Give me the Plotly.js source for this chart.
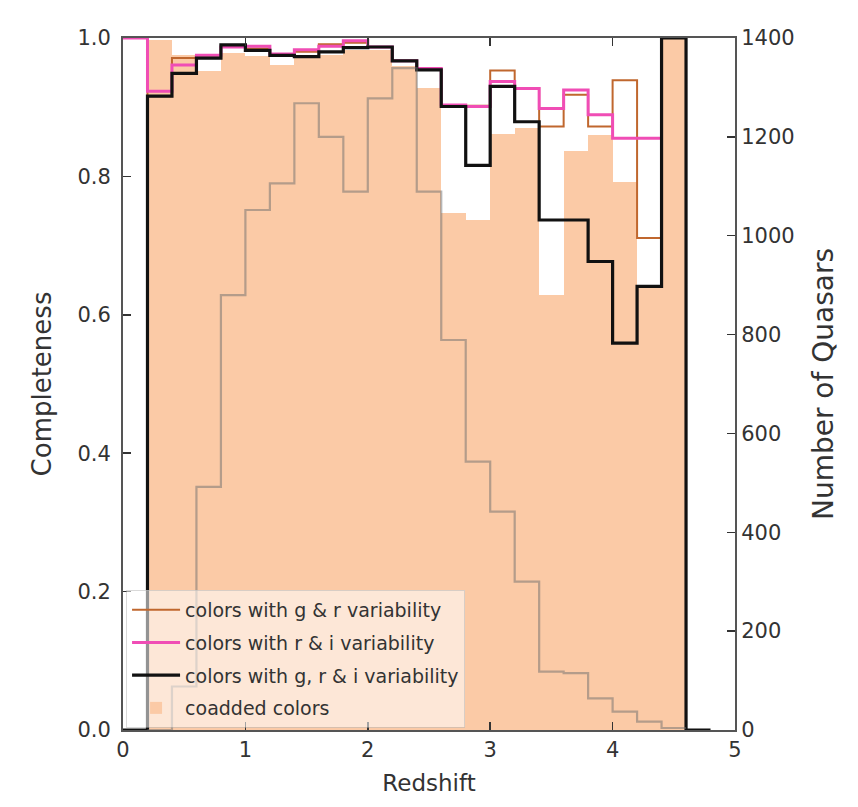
<!DOCTYPE html>
<html>
<head>
<meta charset="utf-8">
<script src="https://cdn.plot.ly/plotly-3.0.1.min.js"></script>
<style>html,body{margin:0;padding:0;background:#fff;}#chart{width:858px;height:807px;}</style>
</head>
<body>
<div id="chart"></div>
<script>
// ---- data (bin width 0.2 in redshift) ----
const binWidth = 0.2;

// completeness, colors with g & r variability (bins start at z=0.0)
const grStart = 0.0;
const grValues = [1.0, 0.916, 0.971, 0.972, 0.988, 0.985, 0.976, 0.980, 0.991, 0.993, 0.987, 0.967,
                  0.955, 0.902, 0.902, 0.953, 0.927, 0.872, 0.918, 0.872, 0.939, 0.711];

// completeness, colors with r & i variability (bins start at z=0.0)
const riStart = 0.0;
const riValues = [1.0, 0.923, 0.961, 0.975, 0.987, 0.988, 0.977, 0.983, 0.988, 0.996, 0.987, 0.967,
                  0.956, 0.903, 0.901, 0.937, 0.927, 0.898, 0.925, 0.889, 0.855, 0.855];

// completeness, colors with g, r & i variability (bins start at z=0.0)
const griStart = 0.0;
const griValues = [0.0, 0.916, 0.949, 0.971, 0.990, 0.982, 0.975, 0.973, 0.980, 0.986, 0.987, 0.967,
                   0.954, 0.901, 0.816, 0.930, 0.879, 0.737, 0.737, 0.677, 0.559, 0.641, 1.0, 0.0];

// completeness, coadded colors (bins start at z=0.2)
const coaddStart = 0.2;
const coaddValues = [0.997, 0.975, 0.952, 0.978, 0.974, 0.961, 0.971, 0.975, 0.982, 0.982, 0.960,
                     0.928, 0.747, 0.737, 0.862, 0.870, 0.629, 0.836, 0.860, 0.792, 0.641, 1.0];

// number of quasars per bin (bins start at z=0.2)
const countStart = 0.2;
const countValues = [0, 88, 492, 880, 1052, 1106, 1268, 1200, 1089, 1278, 1339, 1089, 789, 543,
                     442, 300, 118, 115, 64, 37, 17, 4];

const xTicks = [0, 1, 2, 3, 4, 5];
const yTicks = [0.0, 0.2, 0.4, 0.6, 0.8, 1.0];
const y2Ticks = [0, 200, 400, 600, 800, 1000, 1200, 1400];

const legendNames = ["colors with g & r variability", "colors with r & i variability",
                     "colors with g, r & i variability", "coadded colors"];

// ---- helpers ----
function stepXY(start, vals) {
  const x = vals.map((v, i) => +(start + i * binWidth).toFixed(4));
  const y = vals.slice();
  x.push(+(start + vals.length * binWidth).toFixed(4));
  y.push(vals[vals.length - 1]);
  return {x, y};
}
function centers(start, vals) {
  return vals.map((v, i) => +(start + (i + 0.5) * binWidth).toFixed(4));
}

const gr = stepXY(grStart, grValues);
const ri = stepXY(riStart, riValues);
const gri = stepXY(griStart, griValues);
const cnt = stepXY(countStart, countValues);

const fontFam = "DejaVu Sans, Arial, sans-serif";

const traces = [
  {type: "bar", x: centers(coaddStart, coaddValues), y: coaddValues, width: binWidth,
   marker: {color: "#FBCAA6", line: {width: 0}}, name: legendNames[3], legendrank: 4, legendgroup: "d",
   xaxis: "x", yaxis: "y", hoverinfo: "skip"},
  {type: "scatter", mode: "lines", x: gr.x, y: gr.y, line: {shape: "hv", color: "#C0672E", width: 2},
   name: legendNames[0], legendrank: 1, legendgroup: "a", xaxis: "x", yaxis: "y"},
  {type: "scatter", mode: "lines", x: ri.x, y: ri.y, line: {shape: "hv", color: "#F04DB5", width: 3},
   name: legendNames[1], legendrank: 2, legendgroup: "b", xaxis: "x", yaxis: "y"},
  {type: "scatter", mode: "lines", x: gri.x, y: gri.y, line: {shape: "hv", color: "#111111", width: 3.2},
   name: legendNames[2], legendrank: 3, legendgroup: "c", xaxis: "x", yaxis: "y"},
  {type: "scatter", mode: "lines", x: cnt.x, y: cnt.y, line: {shape: "hv", color: "rgba(110,110,110,0.5)", width: 2.2},
   showlegend: false, xaxis: "x", yaxis: "y2"}
];

const axisCommon = {
  showgrid: false, zeroline: false, showline: true, linecolor: "#555", linewidth: 2,
  ticks: "inside", ticklen: 8, tickwidth: 1.5, tickcolor: "#333",
  tickfont: {family: fontFam, size: 21, color: "#333"}
};

const layout = {
  width: 858, height: 807,
  margin: {l: 123, r: 123, t: 38, b: 77, pad: 0},
  paper_bgcolor: "#fff", plot_bgcolor: "#fff",
  bargap: 0, barmode: "overlay",
  showlegend: true,
  legend: {x: 0.005, y: 0.003, xanchor: "left", yanchor: "bottom",
           bgcolor: "rgba(255,255,255,0.55)", bordercolor: "rgba(180,180,180,0.5)", borderwidth: 1,
           font: {family: fontFam, size: 19, color: "#333"}, tracegroupgap: 5,
           itemwidth: 48},
  xaxis: Object.assign({}, axisCommon, {
    range: [0, 5], tickvals: xTicks, ticktext: xTicks.map(String), mirror: "ticks",
    title: {text: "Redshift", font: {family: fontFam, size: 23, color: "#333"}, standoff: 14}
  }),
  yaxis: Object.assign({}, axisCommon, {
    range: [0, 1], tickvals: yTicks, ticktext: yTicks.map(v => v.toFixed(1)), mirror: false,
    ticklabelstandoff: 6,
    title: {text: "Completeness", font: {family: fontFam, size: 26, color: "#333"}, standoff: 18}
  }),
  yaxis2: Object.assign({}, axisCommon, {
    range: [0, 1400], tickvals: y2Ticks, ticktext: y2Ticks.map(String), overlaying: "y", side: "right",
    title: {text: "Number of Quasars", font: {family: fontFam, size: 28, color: "#333"}, standoff: 20}
  })
};

Plotly.newPlot("chart", traces, layout, {staticPlot: true, displayModeBar: false});
</script>
</body>
</html>
